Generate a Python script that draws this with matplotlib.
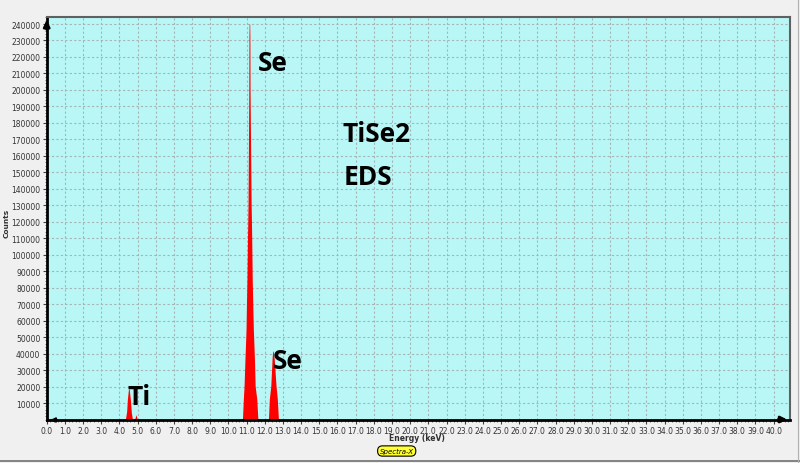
from matplotlib import pyplot as plt
from matplotlib.ticker import MultipleLocator
from matplotlib.lines import Line2D

# spectrum outline (keV, counts)
energy = [0.0, 4.33, 4.40, 4.44, 4.50, 4.54, 4.60, 4.66, 4.72,
          4.84, 4.91, 4.99,
          10.77, 10.82, 10.86, 10.91, 10.97, 10.99, 11.02, 11.05, 11.08, 11.10, 11.12, 11.13, 11.14,
          11.17, 11.18, 11.19, 11.22, 11.25, 11.28, 11.31, 11.34, 11.37, 11.43, 11.47, 11.56, 11.62,
          12.20, 12.25, 12.33, 12.40, 12.43, 12.46, 12.52, 12.62, 12.69, 12.75,
          40.9]
counts = [0, 0, 5000, 12400, 18500, 18500, 12400, 4000, 0,
          0, 2900, 0,
          0, 12400, 20300, 36700, 54900, 68900, 85300, 111300, 130700, 164000, 200000, 233000, 240000,
          240000, 233000, 200000, 164000, 130000, 111000, 85000, 69000, 55000, 37000, 20300, 12400, 0,
          0, 12400, 20300, 36700, 41500, 41500, 36700, 20300, 12400, 0,
          0]

# peak labels: (text, keV, counts)
labels = ['Se', 'TiSe2', 'EDS', 'Se', 'Ti']
label_x = [11.63, 16.29, 16.32, 12.44, 4.44]
label_y = [212300, 169200, 142900, 31250, 9400]

xmax = 40.9
ymax = 244070

fig = plt.figure(figsize=(8, 4.64), dpi=100, facecolor='#f0f0f0')
ax = fig.add_axes([46.7/800, (464-420.5)/464, 743.3/800, 402.2/464])
ax.set_facecolor('#b9f7f7')

ax.fill_between(energy, counts, 0, color='#ff0000', linewidth=0)

for t, x, y in zip(labels, label_x, label_y):
    ax.text(x, y, t, fontsize=19, fontweight='bold', family='Open Sans',
            ha='left', va='baseline', color='black')

ax.set_xlim(0, xmax)
ax.set_ylim(0, ymax)
ax.set_xticks([i*1.0 for i in range(41)])
ax.set_xticklabels(['%.1f' % i for i in range(41)])
ax.set_yticks(list(range(10000, 240001, 10000)))
ax.set_yticklabels([str(v) for v in range(10000, 240001, 10000)])
ax.xaxis.set_minor_locator(MultipleLocator(0.2))
ax.yaxis.set_minor_locator(MultipleLocator(2000))
ax.tick_params(axis='both', which='major', labelsize=5.5, labelcolor='#333333',
               length=3, width=0.8, color='#404040', pad=1.5)
ax.tick_params(axis='both', which='minor', length=1.5, width=0.5, color='#404040')

ax.grid(True, which='major', color='#a5b5b5', linestyle=(0, (2, 2)), linewidth=0.8)
ax.set_axisbelow(True)

for s in ['top', 'right']:
    ax.spines[s].set_color('#606060')
    ax.spines[s].set_linewidth(1.5)
for s in ['left', 'bottom']:
    ax.spines[s].set_color('black')
    ax.spines[s].set_linewidth(2)

# axis arrows
ax.annotate('', xy=(0, ymax), xytext=(0, ymax - 9000),
            arrowprops=dict(arrowstyle='-|>', color='black', lw=2, mutation_scale=9),
            annotation_clip=False)
ax.annotate('', xy=(xmax, 0), xytext=(xmax - 0.8, 0),
            arrowprops=dict(arrowstyle='-|>', color='black', lw=2, mutation_scale=9),
            annotation_clip=False)
ax.annotate('', xy=(0.05, -300), xytext=(0.45, -300),
            arrowprops=dict(arrowstyle='-|>', color='black', lw=1.5, mutation_scale=6),
            annotation_clip=False)

fig.text(7/800, 1 - 223/464, 'Counts', rotation=90, fontsize=5.3, fontweight='bold',
         color='#303030', ha='center', va='center')
fig.text(417/800, 1 - 439/464, 'Energy (keV)', fontsize=5.5, fontweight='bold',
         color='#303030', ha='center', va='center')
fig.text(396.7/800, 1 - 452/464, 'Spectra-X', fontsize=5, style='italic',
         color='black', ha='center', va='center',
         bbox=dict(boxstyle='round,pad=0.3,rounding_size=0.7', facecolor='#ffff33',
                   edgecolor='black', linewidth=0.8))

fig.add_artist(Line2D([0, 1], [2/464, 2/464], color='#707070', linewidth=1.2))
fig.add_artist(Line2D([797.5/800, 797.5/800], [0, 1], color='#b0b0b0', linewidth=0.8))

#plt.show()
plt.savefig('out.png', dpi=100, facecolor=fig.get_facecolor())
